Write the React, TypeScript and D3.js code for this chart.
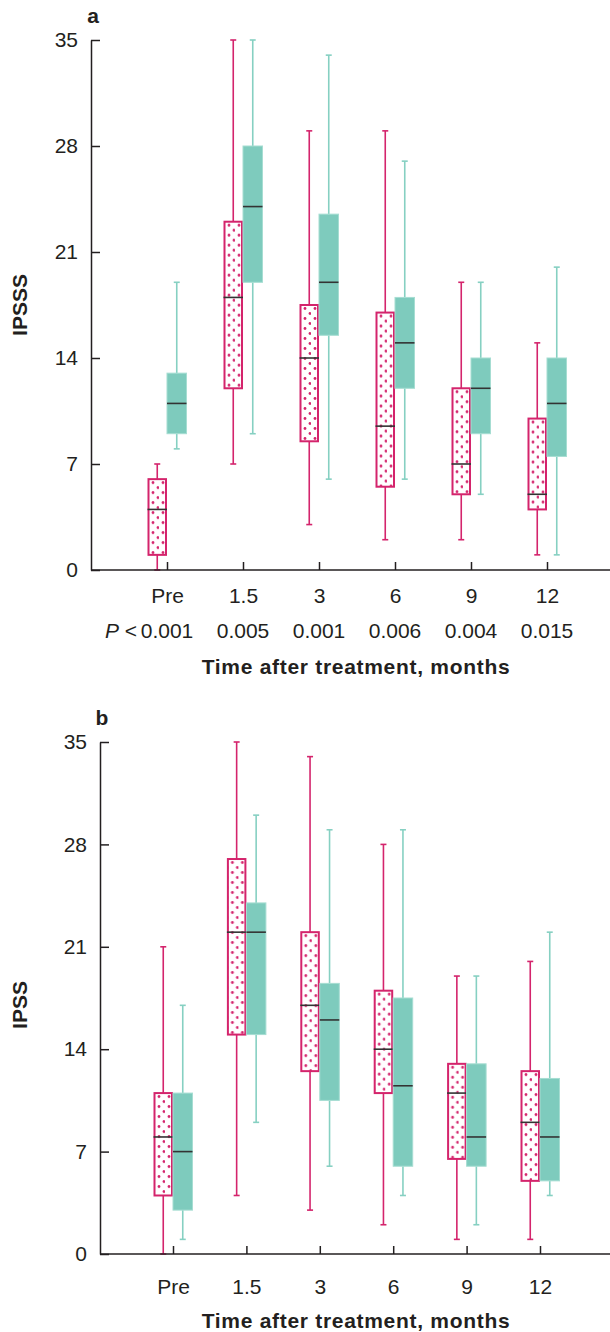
import React, { useEffect, useRef } from "react";
import * as d3 from "d3";

const months = ["Pre", "1.5", "3", "6", "9", "12"];
const pValues = ["0.001", "0.005", "0.001", "0.006", "0.004", "0.015"];
const yTicks = [0, 7, 14, 21, 28, 35];

// each entry: [low whisker, q1, median, q3, high whisker]
const ipsssPink = [[0, 1, 4, 6, 7], [7, 12, 18, 23, 35], [3, 8.5, 14, 17.5, 29], [2, 5.5, 9.5, 17, 29], [2, 5, 7, 12, 19], [1, 4, 5, 10, 15]];
const ipsssTeal = [[8, 9, 11, 13, 19], [9, 19, 24, 28, 35], [6, 15.5, 19, 23.5, 34], [6, 12, 15, 18, 27], [5, 9, 12, 14, 19], [1, 7.5, 11, 14, 20]];
const ipssPink = [[0, 4, 8, 11, 21], [4, 15, 22, 27, 35], [3, 12.5, 17, 22, 34], [2, 11, 14, 18, 28], [1, 6.5, 11, 13, 19], [1, 5, 9, 12.5, 20]];
const ipssTeal = [[1, 3, 7, 11, 17], [9, 15, 22, 24, 30], [6, 10.5, 16, 18.5, 29], [4, 6, 11.5, 17.5, 29], [2, 6, 8, 13, 19], [4, 5, 8, 12, 22]];

const FONT = "'Liberation Sans', Arial, Helvetica, sans-serif";
const PINK = "#d4246c";
const TEAL = "#7ecbbd";
const TEAL_LINE = "#86d0c2";
const INK = "#231f20";

type PanelProps = {
  id: string;
  letter: string;
  yTitle: string;
  pink: number[][];
  teal: number[][];
  axisX: number;
  top: number;
  bottom: number;
  xFirst: number;
  xLast: number;
  labelPad: number;
  showP: boolean;
  titleY: number;
  yTitleY: number;
};

function Panel(p: PanelProps) {
  const yRef = useRef<SVGGElement>(null);
  const xRef = useRef<SVGGElement>(null);

  const y = d3.scaleLinear().domain([0, 35]).range([p.bottom, p.top]);
  const x = d3.scalePoint<string>().domain(months).range([p.xFirst, p.xLast]);
  const bw = 19.5;

  useEffect(() => {
    const gy = d3.select(yRef.current);
    gy.selectAll("*").remove();
    gy.call(d3.axisLeft(y).tickValues(yTicks).tickSize(-9).tickSizeOuter(0).tickPadding(13) as any);
    gy.select(".domain").attr("stroke", INK).attr("stroke-width", 1.5);
    gy.selectAll(".tick line").attr("stroke", INK).attr("stroke-width", 1.5);
    gy.selectAll(".tick text").attr("font-size", 21).attr("font-family", FONT).attr("fill", INK);

    const gx = d3.select(xRef.current);
    gx.selectAll("*").remove();
    gx.call(d3.axisBottom(x).tickSize(-8).tickSizeOuter(0).tickPadding(p.labelPad) as any);
    gx.select(".domain").remove();
    gx.selectAll(".tick line").attr("stroke", INK).attr("stroke-width", 1.5);
    gx.selectAll(".tick text").attr("font-size", 21).attr("font-family", FONT).attr("fill", INK);
  }, []);

  const box = (d: number[], cx: number, kind: "pink" | "teal", i: number) => {
    const [lo, q1, med, q3, hi] = d;
    const color = kind === "pink" ? PINK : TEAL_LINE;
    const left = cx - bw / 2;
    return (
      <g key={kind + i}>
        <line x1={cx} x2={cx} y1={y(q3)} y2={y(hi)} stroke={color} strokeWidth={1.6} />
        <line x1={cx} x2={cx} y1={y(q1)} y2={y(lo)} stroke={color} strokeWidth={1.6} />
        <line x1={cx - 3} x2={cx + 3} y1={y(hi)} y2={y(hi)} stroke={color} strokeWidth={1.6} />
        <line x1={cx - 3} x2={cx + 3} y1={y(lo)} y2={y(lo)} stroke={color} strokeWidth={1.6} />
        {kind === "pink" ? (
          <>
            <rect x={left + 1} y={y(q3)} width={bw - 2} height={y(q1) - y(q3)} fill="#fff" />
            <rect x={left + 1} y={y(q3)} width={bw - 2} height={y(q1) - y(q3)}
              fill={`url(#${p.id}-dots-${i})`} stroke={PINK} strokeWidth={2} />
          </>
        ) : (
          <rect x={left} y={y(q3)} width={bw} height={y(q1) - y(q3)} fill={TEAL} stroke="#a6ddd2" strokeWidth={1} />
        )}
        <line x1={left} x2={left + bw} y1={y(med)} y2={y(med)} stroke="#333" strokeWidth={1.6} />
      </g>
    );
  };

  return (
    <g>
      <defs>
        {months.map((m, i) => (
          <pattern key={m} id={`${p.id}-dots-${i}`} patternUnits="userSpaceOnUse" width={10} height={10}
            x={(x(m) as number) - bw + 1.5} y={y(p.pink[i][3]) + 1}>
            <circle cx={4} cy={2.5} r={1.4} fill={PINK} />
            <circle cx={9} cy={7.5} r={1.4} fill={PINK} />
          </pattern>
        ))}
      </defs>

      {months.map((m, i) => box(p.pink[i], (x(m) as number) - bw / 2, "pink", i))}
      {months.map((m, i) => box(p.teal[i], (x(m) as number) + bw / 2, "teal", i))}

      <line x1={p.axisX} x2={610} y1={y(0)} y2={y(0)} stroke={INK} strokeWidth={1.5} />
      <g ref={xRef} transform={`translate(0,${y(0)})`} />
      <g ref={yRef} transform={`translate(${p.axisX},0)`} />

      {p.showP &&
        months.map((m, i) => (
          <text key={"p" + m} x={x(m)} y={y(0) + 68} textAnchor="middle" fontSize={21} fontFamily={FONT} fill={INK}>
            {pValues[i]}
          </text>
        ))}
      {p.showP && (
        <text x={(x("Pre") as number) - 30} y={y(0) + 68} textAnchor="end" fontSize={21} fontFamily={FONT} fill={INK}>
          <tspan fontStyle="italic">P</tspan> &lt;
        </text>
      )}

      <text x={356} y={p.titleY} textAnchor="middle" fontSize={21} fontWeight="bold" letterSpacing={0.7}
        fontFamily={FONT} fill={INK}>
        Time after treatment, months
      </text>
      <text transform={`translate(27,${p.yTitleY}) rotate(-90)`} textAnchor="middle" fontSize={21}
        fontWeight="bold" fontFamily={FONT} fill={INK}>
        {p.yTitle}
      </text>
      <text x={p.axisX + 2} y={p.top - 17} textAnchor="middle" fontSize={21} fontWeight="bold" fontFamily={FONT} fill={INK}>
        {p.letter}
      </text>
    </g>
  );
}

export default function App() {
  return (
    <svg width={610} height={1332} style={{ position: "absolute", left: 0, top: 0, background: "#fff" }}>
      <Panel id="a" letter="a" yTitle="IPSSS" pink={ipsssPink} teal={ipsssTeal}
        axisX={91} top={40} bottom={570} xFirst={167} xLast={547} labelPad={18}
        showP={true} titleY={674} yTitleY={305} />
      <Panel id="b" letter="b" yTitle="IPSS" pink={ipssPink} teal={ipssTeal}
        axisX={100} top={742} bottom={1254} xFirst={173} xLast={540} labelPad={25}
        showP={false} titleY={1328} yTitleY={1005} />
    </svg>
  );
}
